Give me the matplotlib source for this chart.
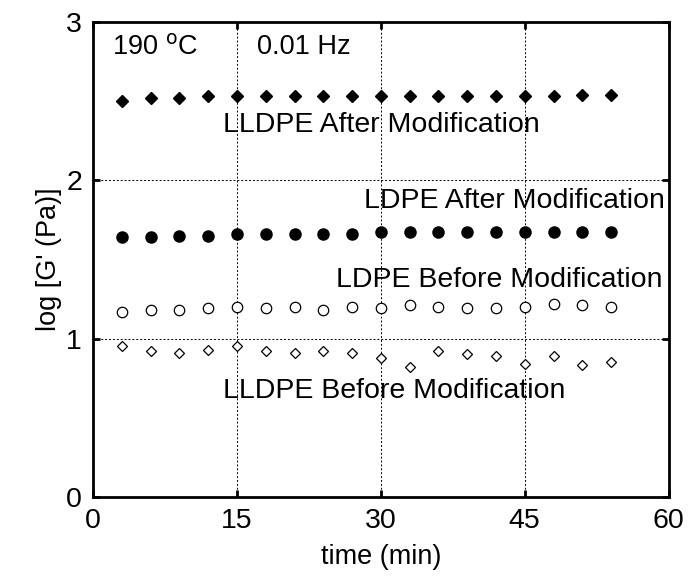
"""
log G' versus time for LDPE and LLDPE, before and after modification
(190 C, 0.01 Hz).
"""

import matplotlib
matplotlib.use("Agg")
import matplotlib.pyplot as plt

plt.rcParams["font.family"] = ["Liberation Sans", "DejaVu Sans"]

# ---------------------------------------------------------------------
# Data
# ---------------------------------------------------------------------

TIME_MIN = [3, 6, 9, 12, 15, 18, 21, 24, 27, 30, 33, 36, 39, 42, 45, 48, 51, 54]

LLDPE_AFTER = [2.50, 2.52, 2.52, 2.53, 2.53, 2.53, 2.53, 2.53, 2.53,
               2.53, 2.53, 2.53, 2.53, 2.53, 2.53, 2.53, 2.54, 2.54]
LDPE_AFTER = [1.64, 1.64, 1.65, 1.65, 1.66, 1.66, 1.66, 1.66, 1.66,
              1.67, 1.67, 1.67, 1.67, 1.67, 1.67, 1.67, 1.67, 1.67]
LDPE_BEFORE = [1.17, 1.18, 1.18, 1.19, 1.20, 1.19, 1.20, 1.18, 1.20,
               1.19, 1.21, 1.20, 1.19, 1.19, 1.20, 1.22, 1.21, 1.20]
LLDPE_BEFORE = [0.95, 0.92, 0.91, 0.93, 0.95, 0.92, 0.91, 0.92, 0.91,
                0.88, 0.82, 0.92, 0.90, 0.89, 0.84, 0.89, 0.83, 0.85]

X_TICKS = [0, 15, 30, 45, 60]
Y_TICKS = [0, 1, 2, 3]

FONT_SIZE = 20.5


def main() -> None:
    fig = plt.figure(figsize=(6.9, 5.77), dpi=100)
    ax = fig.add_axes([0.135, 0.139, 0.834, 0.823])

    ax.plot(TIME_MIN, LLDPE_AFTER, linestyle="none", marker="D",
            markersize=6, color="black")
    ax.plot(TIME_MIN, LDPE_AFTER, linestyle="none", marker="o",
            markersize=8, color="black")
    ax.plot(TIME_MIN, LDPE_BEFORE, linestyle="none", marker="o",
            markersize=7.5, markerfacecolor="white", markeredgecolor="black",
            markeredgewidth=0.9)
    ax.plot(TIME_MIN, LLDPE_BEFORE, linestyle="none", marker="D",
            markersize=5.5, markerfacecolor="white", markeredgecolor="black",
            markeredgewidth=0.9)

    # labels inside the plot
    ax.text(2.0, 2.84, "190 $^{\\rm o}$C", fontsize=FONT_SIZE - 1,
            ha="left", va="center")
    ax.text(17.1, 2.84, "0.01 Hz", fontsize=FONT_SIZE - 1,
            ha="left", va="center")
    ax.text(13.5, 2.35, "LLDPE After Modification", fontsize=FONT_SIZE,
            ha="left", va="center")
    ax.text(59.6, 1.87, "LDPE After Modification", fontsize=FONT_SIZE,
            ha="right", va="center")
    ax.text(59.4, 1.37, "LDPE Before Modification", fontsize=FONT_SIZE,
            ha="right", va="center")
    ax.text(13.5, 0.67, "LLDPE Before Modification", fontsize=FONT_SIZE,
            ha="left", va="center")

    ax.set_xlim(0, 60)
    ax.set_ylim(0, 3)
    ax.set_xticks(X_TICKS)
    ax.set_yticks(Y_TICKS)
    ax.set_xlabel("time (min)", fontsize=FONT_SIZE - 1, labelpad=7)
    ax.set_ylabel("log [G' (Pa)]", fontsize=FONT_SIZE - 1, labelpad=3)

    ax.tick_params(axis="both", which="major", direction="in", length=5,
                   width=2, labelsize=FONT_SIZE, top=True, right=True,
                   pad=8)
    for spine in ax.spines.values():
        spine.set_linewidth(2)

    ax.grid(True, color="black", linestyle=(0, (2, 2)), linewidth=0.7)
    ax.set_axisbelow(True)

    fig.savefig("out.png", dpi=100)


if __name__ == "__main__":
    main()
